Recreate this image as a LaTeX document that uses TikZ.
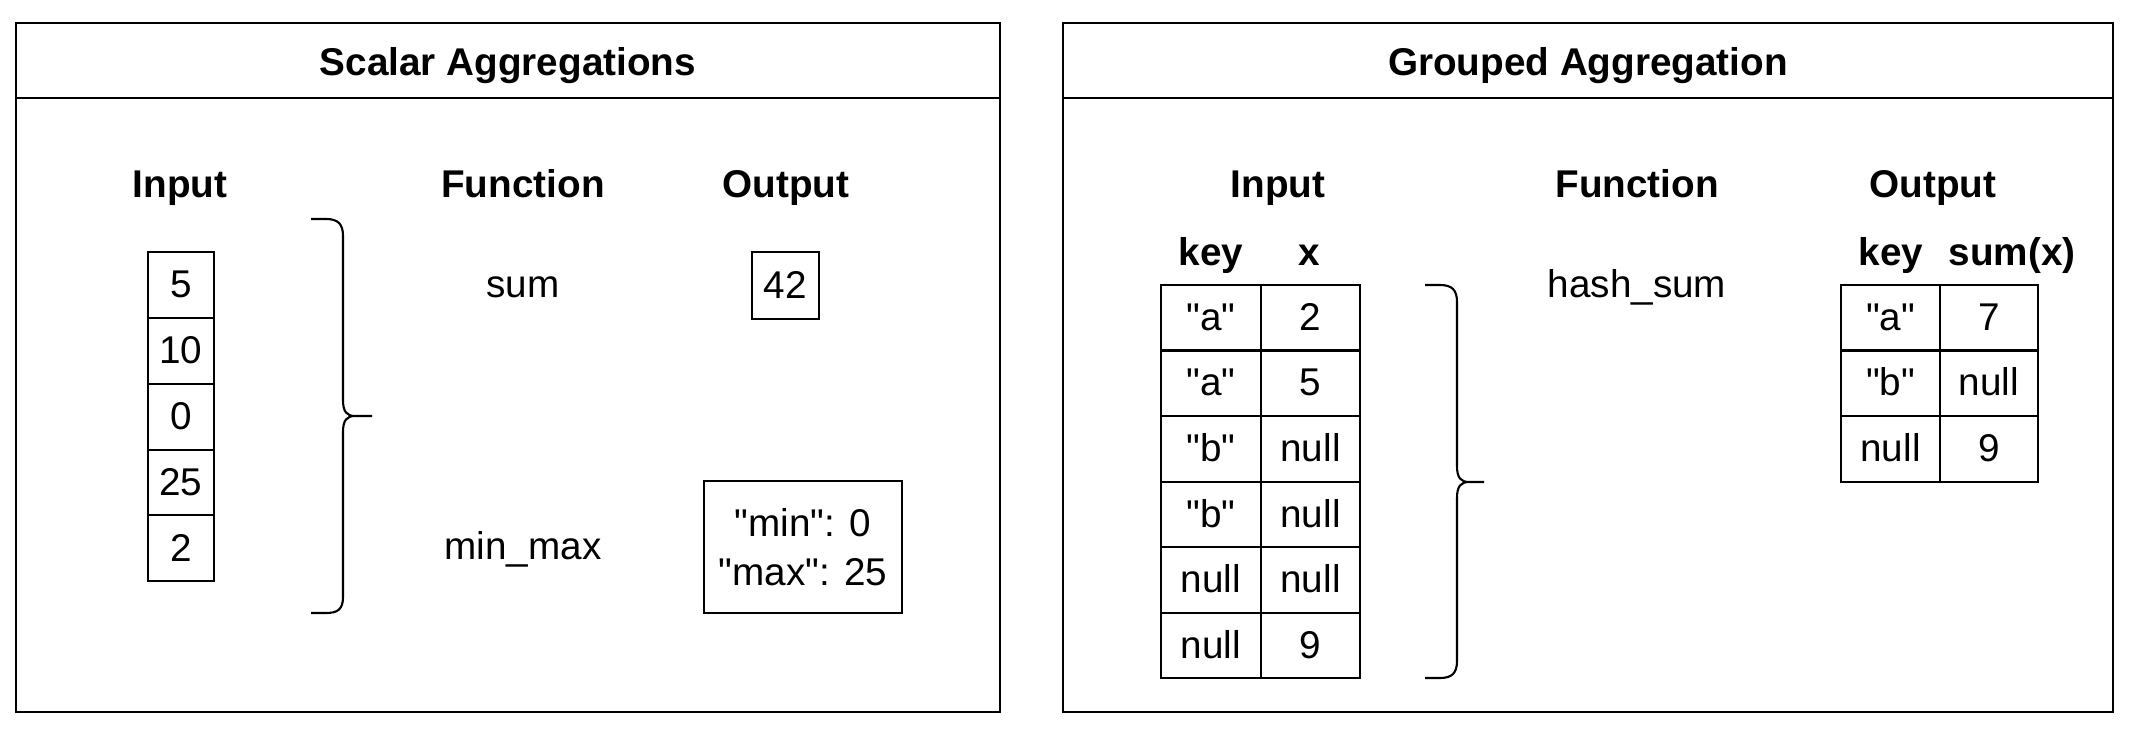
\documentclass[tikz,border=0pt]{standalone}
\usepackage{fontspec}
\setmainfont{Liberation Sans}
\usetikzlibrary{positioning}
\newcommand{\qt}[1]{\textquotedbl#1\textquotedbl}

\begin{document}
\begin{tikzpicture}[x=0.01cm,y=-0.01cm,line width=0.6pt,node distance=0pt,
  font=\fontsize{11}{14}\selectfont,
  panel/.style={draw,line width=0.7pt},
  head/.style={font=\fontsize{11}{14}\selectfont\bfseries,text height=0.72em,text depth=0pt},
  plain/.style={text height=0.72em,text depth=0pt},
  cell/.style={draw,inner sep=0pt,outer sep=0pt,text height=0.72em,text depth=0pt,minimum width=0.665cm,minimum height=0.658cm},
  kcell/.style={draw,inner sep=0pt,outer sep=0pt,text height=0.72em,text depth=0pt,minimum width=0.995cm,minimum height=0.655cm}]
\useasboundingbox (0,0) rectangle (2132,730);

% Scalar panel
\draw[panel] (16,23) rectangle (1000,712);
\draw[panel] (16,98) -- (1000,98);
\node[head] (stitle) at (508,63) {Scalar Aggregations};

\node[head] (sinput) at (180,185) {Input};
\node[head] (sfunc) at (523,185) {Function};
\node[head] (sout) at (786,185) {Output};

\node[cell] (in1) at (181,285) {5};
\node[cell,below=of in1] (in2) {10};
\node[cell,below=of in2] (in3) {0};
\node[cell,below=of in3] (in4) {25};
\node[cell,below=of in4] (in5) {2};

\draw (311,219) -- (326,219) .. controls (338,219) and (343,224) .. (343,236)
  -- (343,400) .. controls (343,412) and (347,416) .. (355,416) -- (372,416)
  (355,416) .. controls (347,416) and (343,420) .. (343,432)
  -- (343,597) .. controls (343,609) and (338,613) .. (326,613) -- (311,613);

\node[plain] (fsum) at (523,285) {sum};
\node[plain] (fminmax) at (523,547) {min\_max};
\node[cell,minimum height=0.67cm,minimum width=0.67cm] (osum) at (785.5,285.5) {42};
\node[draw,align=center,inner sep=0pt,minimum width=1.98cm,minimum height=1.32cm] (ominmax) at (803,547) {\qt{min}: 0\\\qt{max}: 25};

% Grouped panel
\draw[panel] (1063,23) rectangle (2113,712);
\draw[panel] (1063,98) -- (2113,98);
\node[head] (gtitle) at (1588,63) {Grouped Aggregation};

\node[head] (ginput) at (1278,185) {Input};
\node[head] (gfunc) at (1637,185) {Function};
\node[head] (gout) at (1933,185) {Output};

\node[head] (ikey) at (1211,253) {key};
\node[head] (ix) at (1309,253) {x};
\node[head] (okey) at (1891,253) {key};
\node[head] (osumx) at (2012,253) {sum(x)};

\node[kcell] (k1) at (1211,317.75) {\qt{a}};
\node[kcell,below=of k1] (k2) {\qt{a}};
\node[kcell,below=of k2] (k3) {\qt{b}};
\node[kcell,below=of k3] (k4) {\qt{b}};
\node[kcell,below=of k4] (k5) {null};
\node[kcell,below=of k5] (k6) {null};
\node[kcell,right=of k1] (x1) {2};
\node[kcell,right=of k2] (x2) {5};
\node[kcell,right=of k3] (x3) {null};
\node[kcell,right=of k4] (x4) {null};
\node[kcell,right=of k5] (x5) {null};
\node[kcell,right=of k6] (x6) {9};

\draw (1425,285) -- (1440,285) .. controls (1452,285) and (1457,290) .. (1457,302)
  -- (1457,466) .. controls (1457,478) and (1461,482) .. (1469,482) -- (1484,482)
  (1469,482) .. controls (1461,482) and (1457,486) .. (1457,498)
  -- (1457,661) .. controls (1457,673) and (1452,678) .. (1440,678) -- (1425,678);

\node[plain] (fhash) at (1637,285) {hash\_sum};

\node[kcell,minimum width=0.99cm] (ok1) at (1890.5,317.75) {\qt{a}};
\node[kcell,minimum width=0.99cm,below=of ok1] (ok2) {\qt{b}};
\node[kcell,minimum width=0.99cm,below=of ok2] (ok3) {null};
\node[kcell,minimum width=0.98cm,right=of ok1] (os1) {7};
\node[kcell,minimum width=0.98cm,right=of ok2] (os2) {null};
\node[kcell,minimum width=0.98cm,right=of ok3] (os3) {9};
\end{tikzpicture}
\end{document}
